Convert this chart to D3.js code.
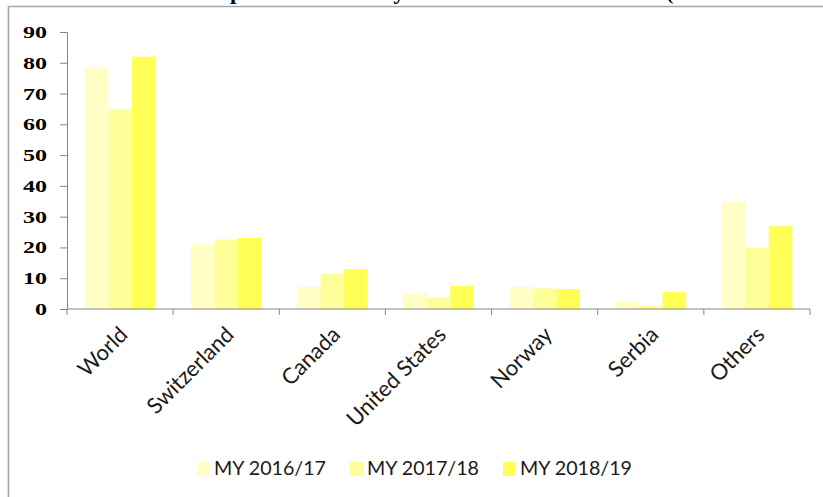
<!DOCTYPE html>
<html lang="en">
<head>
<meta charset="utf-8">
<script src="https://d3js.org/d3.v7.min.js"></script>
<style>
  body { margin: 0; background: #fff; }
</style>
</head>
<body>
<script>
// chart data
var countries = ["World", "Switzerland", "Canada", "United States", "Norway", "Serbia", "Others"];
var seriesNames = ["MY 2016/17", "MY 2017/18", "MY 2018/19"];
var my2016 = [78.5, 21, 7.2, 5.1, 7.2, 2.4, 34.8];
var my2017 = [65, 22.6, 11.4, 3.8, 6.7, 1.1, 19.9];
var my2018 = [82, 23.1, 12.9, 7.5, 6.5, 5.5, 26.9];
var yTicks = [0, 10, 20, 30, 40, 50, 60, 70, 80, 90];
var colors = ["#ffffc6", "#ffff9a", "#ffff55"];
var titleText = "Exports of Pellets by Main Destination Market (Thousand Metric Tons)";

var width = 823, height = 497;
var margin = {left: 67, right: 13, top: 32, bottom: 188};

var svg = d3.select("body").append("svg")
  .attr("width", width)
  .attr("height", height);

// title, cut off by the top of the frame (only descenders show)
var title = svg.append("text")
  .attr("x", 0)
  .attr("y", -1)
  .style("font-family", "'Liberation Serif', serif")
  .style("font-weight", "bold")
  .style("font-size", "26px")
  .attr("fill", "#000")
  .text(titleText);
// line the "p" and "(" up with where they sit in the picture
var tnode = title.node();
var pOff = tnode.getSubStringLength(0, titleText.indexOf("p"));
var parOff = tnode.getSubStringLength(0, titleText.indexOf("("));
var fs = Math.max(22, Math.min(30, 26 * 436 / (parOff - pOff)));
title.style("font-size", fs + "px");
pOff = tnode.getSubStringLength(0, titleText.indexOf("p"));
title.attr("x", 230 - pOff);

// outer frame
svg.append("path")
  .attr("d", "M8.5," + height + "V6.5H" + width)
  .attr("fill", "none")
  .attr("stroke", "#a6a6a6")
  .attr("stroke-width", 1.6);

var x = d3.scaleBand()
  .domain(countries)
  .range([margin.left, width - margin.right]);

var y = d3.scaleLinear()
  .domain([0, 90])
  .range([height - margin.bottom, margin.top]);

var x1 = d3.scaleBand()
  .domain(seriesNames)
  .range([0, x.bandwidth()])
  .paddingInner(0)
  .paddingOuter(0.75);

var data = countries.map(function(c, i) {
  return {country: c, values: [my2016[i], my2017[i], my2018[i]]};
});

// bars
var groups = svg.selectAll("g.grp")
  .data(data)
  .enter()
  .append("g")
  .attr("class", "grp")
  .attr("transform", function(d) { return "translate(" + x(d.country) + ",0)"; });

groups.selectAll("rect")
  .data(function(d) {
    return d.values.map(function(v, j) { return {name: seriesNames[j], value: v, j: j}; });
  })
  .enter()
  .append("rect")
  .attr("x", function(d) { return x1(d.name); })
  .attr("width", x1.bandwidth())
  .attr("y", function(d) { return y(d.value); })
  .attr("height", function(d) { return y(0) - y(d.value); })
  .attr("fill", function(d) { return colors[d.j]; });

// y axis
var yAxis = svg.append("g")
  .attr("transform", "translate(" + margin.left + ",0)")
  .call(d3.axisLeft(y).tickValues(yTicks).tickSize(7).tickPadding(13));
yAxis.selectAll("path, line").attr("stroke", "#868686");
yAxis.selectAll("text")
  .style("font-family", "'Liberation Serif', serif")
  .style("font-weight", "bold")
  .style("font-size", "17px")
  .attr("fill", "#000")
  .attr("textLength", function(d) { return String(d).length * 12; })
  .attr("lengthAdjust", "spacingAndGlyphs");

// x axis line and boundary ticks
var xg = svg.append("g");
xg.append("line")
  .attr("x1", margin.left).attr("x2", width - margin.right)
  .attr("y1", y(0)).attr("y2", y(0))
  .attr("stroke", "#868686");
var bounds = countries.map(function(c) { return x(c); }).concat([x.range()[1]]);
xg.selectAll("line.tk")
  .data(bounds)
  .enter()
  .append("line")
  .attr("class", "tk")
  .attr("x1", function(d) { return d; }).attr("x2", function(d) { return d; })
  .attr("y1", y(0)).attr("y2", y(0) + 6)
  .attr("stroke", "#868686");

// rotated category labels
xg.selectAll("text")
  .data(countries)
  .enter()
  .append("text")
  .attr("transform", function(d) {
    return "translate(" + (x(d) + x.bandwidth() / 2 + 9) + "," + (y(0) + 27) + ") rotate(-45)";
  })
  .attr("text-anchor", "end")
  .style("font-family", "Lato, sans-serif")
  .style("font-size", "22px")
  .attr("fill", "#1a1a1a")
  .text(function(d) { return d; });

// legend
var legendX = [197, 350, 503];
var legend = svg.selectAll("g.leg")
  .data(seriesNames)
  .enter()
  .append("g")
  .attr("class", "leg")
  .attr("transform", function(d, i) { return "translate(" + legendX[i] + ",462)"; });

legend.append("rect")
  .attr("width", 13)
  .attr("height", 14)
  .attr("fill", function(d, i) { return colors[i]; });

legend.append("text")
  .attr("x", 17)
  .attr("y", 13)
  .style("font-family", "Lato, sans-serif")
  .style("font-size", "19px")
  .attr("fill", "#1a1a1a")
  .attr("textLength", 112)
  .attr("lengthAdjust", "spacingAndGlyphs")
  .text(function(d) { return d; });
</script>
</body>
</html>
